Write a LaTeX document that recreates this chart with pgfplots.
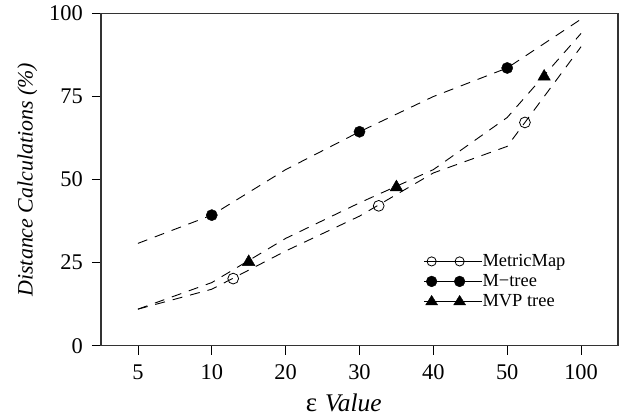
\documentclass[border=0pt]{standalone}
\usepackage{fontspec}
\setmainfont{Liberation Serif}
\usepackage{pgfplots}
\pgfplotsset{compat=1.18}
\begin{document}
\begin{tikzpicture}
\begin{axis}[
  scale only axis, width=517bp, height=332.2bp,
  xmin=-0.5, xmax=6.5, ymin=0, ymax=100,
  xtick={0,1,2,3,4,5,6}, xticklabels={5,10,20,30,40,50,100},
  ytick={0,25,50,75,100},
  tick align=outside, xtick pos=bottom, ytick pos=left,
  major tick length=9bp,
  every tick/.style={black, line width=0.8bp},
  axis line style={line width=1.1bp, black!80},
  /pgf/number format/assume math mode=true,
  tick label style={font=\fontsize{22.5}{26}\selectfont, inner sep=0pt},
  yticklabel style={xshift=-9bp},
  xticklabel style={yshift=-9.5bp},
  xlabel={{\fontsize{27}{30}\selectfont ε}\hspace{8bp}\textit{Value}},
  xlabel style={font=\fontsize{25.5}{29}\selectfont, at={(axis description cs:0.396,-0.1987)}, anchor=base west, inner sep=0pt},
  ylabel={\textit{Distance Calculations (\%)}},
  ylabel style={font=\fontsize{22}{26}\selectfont, at={(axis description cs:-0.1321,0.5)}, anchor=base, rotate=0, inner sep=0pt},
  legend style={draw=none, fill=none, at={(axis description cs:0.6179,0.2880)}, anchor=north west,
    font=\fontsize{18.5}{21}\selectfont, row sep=0pt, column sep=0pt,
    nodes={inner sep=0pt, text height=14.5bp, text depth=5.5bp, anchor=base west}},
  legend cell align=left,
  clip=false,
]
% dashed lines
\addplot[forget plot, black, line width=0.9bp, dash pattern=on 10bp off 8bp] coordinates {
 (0,11.0) (1,17.0) (2,28.5) (3,39.0) (4,52.0) (5,60.0) (6,90.0)};
\addplot[forget plot, black, line width=0.9bp, dash pattern=on 10bp off 8bp] coordinates {
 (0,30.8) (1,39.3) (2,53.0) (3,64.4) (4,75.0) (5,83.6) (6,98.3)};
\addplot[forget plot, black, line width=0.9bp, dash pattern=on 10bp off 8bp] coordinates {
 (0,11.0) (1,19.0) (2,32.3) (3,43.0) (4,53.0) (5,68.7) (6,94.0)};
% markers
\addplot[forget plot, only marks, mark=o, mark size=5.4bp, black, mark options={line width=0.8bp}] coordinates {
 (1.29,20.2) (3.26,42.1) (5.24,67.2)};
\addplot[forget plot, only marks, mark=*, mark size=5.6bp, black] coordinates {
 (1,39.3) (3,64.4) (5,83.6)};
\addplot[forget plot, only marks, mark=triangle*, mark size=7.2bp, black] coordinates {
 (1.5,25.2) (3.5,47.7) (5.5,81.0)};
% legend
\addlegendimage{legend image code/.code={
  \begin{scope}[yshift=5.3bp]
  \draw[black, line width=0.8bp] (0bp,0bp) -- (15bp,0bp);
  \draw[black, line width=0.8bp, fill=white] (7.6bp,0bp) circle (4.6bp);
  \draw[black, line width=0.8bp] (31.5bp,0bp) -- (35bp,0bp);
  \draw[black, line width=0.8bp] (35.6bp,0bp) circle (4.6bp);
  \draw[black, line width=0.8bp] (41.5bp,0bp) -- (43bp,0bp);
  \path (0bp,0bp) -- (58.3bp,0bp);
  \end{scope}}}
\addlegendentry{MetricMap}
\addlegendimage{legend image code/.code={
  \begin{scope}[yshift=5.3bp]
  \draw[black, line width=0.8bp] (0bp,0bp) -- (15bp,0bp);
  \fill[black] (7.6bp,0bp) circle (5.4bp);
  \fill[black] (35.6bp,0bp) circle (5.4bp);
  \draw[black, line width=0.8bp] (41.5bp,0bp) -- (43bp,0bp);
  \path (0bp,0bp) -- (58.3bp,0bp);
  \end{scope}}}
\addlegendentry{M\textminus tree}
\addlegendimage{legend image code/.code={
  \begin{scope}[yshift=5.3bp]
  \draw[black, line width=0.8bp] (0bp,0bp) -- (15bp,0bp);
  \fill[black] (7.6bp,6bp) -- (1.6bp,-3.5bp) -- (13.6bp,-3.5bp) -- cycle;
  \fill[black] (35.6bp,6bp) -- (29.6bp,-3.5bp) -- (41.6bp,-3.5bp) -- cycle;
  \draw[black, line width=0.8bp] (41.5bp,0bp) -- (43bp,0bp);
  \path (0bp,0bp) -- (58.3bp,0bp);
  \end{scope}}}
\addlegendentry{MVP tree}
\end{axis}
\pgfresetboundingbox
\path (current axis.south west) ++(-101bp,-71.3bp) rectangle ++(622bp,417bp);
\end{tikzpicture}
\end{document}
